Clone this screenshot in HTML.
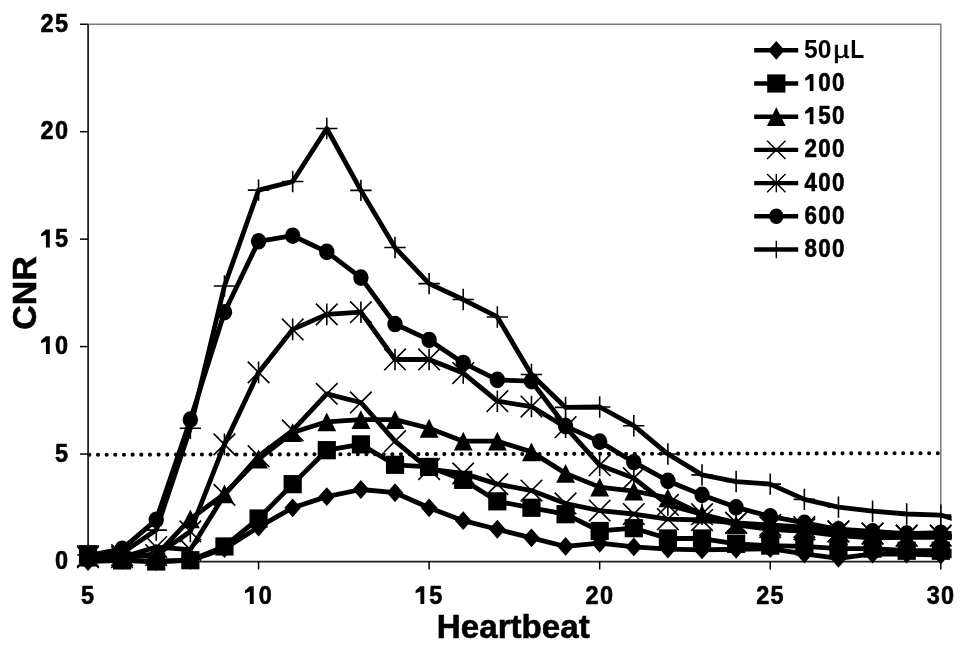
<!DOCTYPE html><html><head><meta charset="utf-8"><style>
html,body{margin:0;padding:0;background:#fff;}
svg{display:block;filter:grayscale(1);}
text{font-family:"Liberation Sans",sans-serif;font-weight:bold;fill:#000;}
.d{stroke:#000;stroke-width:0.6px;}
.t{stroke:#000;stroke-width:1.6;fill:none;}
.ln{stroke:#000;stroke-width:4.80;fill:none;stroke-linejoin:round;}
</style></head><body>
<svg width="969" height="654" viewBox="0 0 969 654">
<defs><clipPath id="c"><rect x="0" y="0" width="951.6" height="654"/></clipPath></defs>
<path d="M88.0 24.25H940.8V561.5" stroke="#7a7a7a" stroke-width="1.5" fill="none"/>
<path d="M89.34 454.75L937.9 453.2" stroke="#000" stroke-width="4.1" stroke-linecap="round" stroke-dasharray="0 8.658" fill="none"/>
<path d="M88.1 24.25V561.5H940.8" stroke="#1c1c1c" stroke-width="1.75" fill="none"/>
<path d="M80 561.50H88.0" stroke="#000" stroke-width="1.5"/>
<text class="d" transform="translate(61.43 569.20) scale(0.91 1.03)" font-size="25.8" text-anchor="middle">0</text>
<path d="M80 454.05H88.0" stroke="#000" stroke-width="1.5"/>
<text class="d" transform="translate(61.43 462.40) scale(0.91 1.03)" font-size="25.8" text-anchor="middle">5</text>
<path d="M80 346.60H88.0" stroke="#000" stroke-width="1.5"/>
<path d="M45.91 336.20L49.81 336.20L49.81 354.10L45.91 354.10L45.91 341.50L41.11 343.30L41.11 340.50Z"/><text class="d" transform="translate(61.43 354.10) scale(0.91 1.03)" font-size="25.8" text-anchor="middle">0</text>
<path d="M80 239.15H88.0" stroke="#000" stroke-width="1.5"/>
<path d="M45.91 229.50L49.81 229.50L49.81 247.40L45.91 247.40L45.91 234.80L41.11 236.60L41.11 233.80Z"/><text class="d" transform="translate(61.43 247.40) scale(0.91 1.03)" font-size="25.8" text-anchor="middle">5</text>
<path d="M80 131.70H88.0" stroke="#000" stroke-width="1.5"/>
<text class="d" transform="translate(47.08 139.00) scale(0.91 1.03)" font-size="25.8" text-anchor="middle">2</text><text class="d" transform="translate(61.43 139.00) scale(0.91 1.03)" font-size="25.8" text-anchor="middle">0</text>
<path d="M80 24.25H88.0" stroke="#000" stroke-width="1.5"/>
<text class="d" transform="translate(47.08 32.20) scale(0.91 1.03)" font-size="25.8" text-anchor="middle">2</text><text class="d" transform="translate(61.43 32.20) scale(0.91 1.03)" font-size="25.8" text-anchor="middle">5</text>
<path d="M88.00 561.5V569.5" stroke="#000" stroke-width="1.5"/>
<text class="d" transform="translate(87.60 604.10) scale(0.91 1.03)" font-size="25.8" text-anchor="middle">5</text>
<path d="M258.56 561.5V569.5" stroke="#000" stroke-width="1.5"/>
<path d="M249.82 586.20L253.72 586.20L253.72 604.10L249.82 604.10L249.82 591.50L245.02 593.30L245.02 590.50Z"/><text class="d" transform="translate(265.33 604.10) scale(0.91 1.03)" font-size="25.8" text-anchor="middle">0</text>
<path d="M429.12 561.5V569.5" stroke="#000" stroke-width="1.5"/>
<path d="M420.38 586.20L424.28 586.20L424.28 604.10L420.38 604.10L420.38 591.50L415.58 593.30L415.58 590.50Z"/><text class="d" transform="translate(435.89 604.10) scale(0.91 1.03)" font-size="25.8" text-anchor="middle">5</text>
<path d="M599.68 561.5V569.5" stroke="#000" stroke-width="1.5"/>
<text class="d" transform="translate(592.11 604.10) scale(0.91 1.03)" font-size="25.8" text-anchor="middle">2</text><text class="d" transform="translate(606.45 604.10) scale(0.91 1.03)" font-size="25.8" text-anchor="middle">0</text>
<path d="M770.24 561.5V569.5" stroke="#000" stroke-width="1.5"/>
<text class="d" transform="translate(762.67 604.10) scale(0.91 1.03)" font-size="25.8" text-anchor="middle">2</text><text class="d" transform="translate(777.01 604.10) scale(0.91 1.03)" font-size="25.8" text-anchor="middle">5</text>
<path d="M940.80 561.5V569.5" stroke="#000" stroke-width="1.5"/>
<text class="d" transform="translate(933.23 604.10) scale(0.91 1.03)" font-size="25.8" text-anchor="middle">3</text><text class="d" transform="translate(947.57 604.10) scale(0.91 1.03)" font-size="25.8" text-anchor="middle">0</text>
<text class="d" transform="translate(513.3 638.1) scale(0.99 1)" font-size="33.5" text-anchor="middle">Heartbeat</text>
<text class="d" transform="translate(35.9 292.9) rotate(-90) scale(1.0 0.985)" font-size="34" text-anchor="middle">CNR</text>
<g clip-path="url(#c)">
<polyline class="ln" points="88.00,561.50 122.11,560.43 156.22,561.50 190.34,560.43 224.45,548.61 258.56,527.12 292.67,507.77 326.78,496.60 360.90,489.51 395.01,492.73 429.12,507.77 463.23,520.67 497.34,529.26 531.46,537.86 565.57,546.46 599.68,543.23 633.79,546.89 667.90,549.04 702.02,549.90 736.13,549.25 770.24,548.61 804.35,553.98 838.46,558.28 872.58,553.98 906.69,553.98 940.80,555.05 974.91,557.20"/>
<g><path d="M88.00 552.10L96.30 561.50L88.00 570.90L79.70 561.50Z"/><path d="M122.11 551.03L130.41 560.43L122.11 569.83L113.81 560.43Z"/><path d="M156.22 552.10L164.52 561.50L156.22 570.90L147.92 561.50Z"/><path d="M190.34 551.03L198.64 560.43L190.34 569.83L182.04 560.43Z"/><path d="M224.45 539.21L232.75 548.61L224.45 558.01L216.15 548.61Z"/><path d="M258.56 517.72L266.86 527.12L258.56 536.52L250.26 527.12Z"/><path d="M292.67 498.38L300.97 507.77L292.67 517.17L284.37 507.77Z"/><path d="M326.78 487.20L335.08 496.60L326.78 506.00L318.48 496.60Z"/><path d="M360.90 480.11L369.20 489.51L360.90 498.91L352.60 489.51Z"/><path d="M395.01 483.33L403.31 492.73L395.01 502.13L386.71 492.73Z"/><path d="M429.12 498.38L437.42 507.77L429.12 517.17L420.82 507.77Z"/><path d="M463.23 511.27L471.53 520.67L463.23 530.07L454.93 520.67Z"/><path d="M497.34 519.87L505.64 529.26L497.34 538.66L489.04 529.26Z"/><path d="M531.46 528.46L539.76 537.86L531.46 547.26L523.16 537.86Z"/><path d="M565.57 537.06L573.87 546.46L565.57 555.86L557.27 546.46Z"/><path d="M599.68 533.83L607.98 543.23L599.68 552.63L591.38 543.23Z"/><path d="M633.79 537.49L642.09 546.89L633.79 556.29L625.49 546.89Z"/><path d="M667.90 539.64L676.20 549.04L667.90 558.44L659.60 549.04Z"/><path d="M702.02 540.50L710.32 549.90L702.02 559.30L693.72 549.90Z"/><path d="M736.13 539.85L744.43 549.25L736.13 558.65L727.83 549.25Z"/><path d="M770.24 539.21L778.54 548.61L770.24 558.01L761.94 548.61Z"/><path d="M804.35 544.58L812.65 553.98L804.35 563.38L796.05 553.98Z"/><path d="M838.46 548.88L846.76 558.28L838.46 567.68L830.16 558.28Z"/><path d="M872.58 544.58L880.88 553.98L872.58 563.38L864.28 553.98Z"/><path d="M906.69 544.58L914.99 553.98L906.69 563.38L898.39 553.98Z"/><path d="M940.80 545.65L949.10 555.05L940.80 564.45L932.50 555.05Z"/></g>
<polyline class="ln" points="88.00,554.19 122.11,560.43 156.22,561.50 190.34,560.21 224.45,546.46 258.56,518.52 292.67,484.14 326.78,450.18 360.90,444.38 395.01,464.80 429.12,466.94 463.23,479.84 497.34,501.33 531.46,507.77 565.57,514.22 599.68,530.98 633.79,528.19 667.90,538.51 702.02,538.51 736.13,543.88 770.24,545.60 804.35,546.46 838.46,548.61 872.58,548.61 906.69,550.75 940.80,550.75 974.91,551.83"/>
<g><rect x="78.90" y="545.09" width="18.20" height="18.20"/><rect x="113.01" y="551.33" width="18.20" height="18.20"/><rect x="147.12" y="552.40" width="18.20" height="18.20"/><rect x="181.24" y="551.11" width="18.20" height="18.20"/><rect x="215.35" y="537.36" width="18.20" height="18.20"/><rect x="249.46" y="509.42" width="18.20" height="18.20"/><rect x="283.57" y="475.04" width="18.20" height="18.20"/><rect x="317.68" y="441.08" width="18.20" height="18.20"/><rect x="351.80" y="435.28" width="18.20" height="18.20"/><rect x="385.91" y="455.69" width="18.20" height="18.20"/><rect x="420.02" y="457.84" width="18.20" height="18.20"/><rect x="454.13" y="470.74" width="18.20" height="18.20"/><rect x="488.24" y="492.23" width="18.20" height="18.20"/><rect x="522.36" y="498.67" width="18.20" height="18.20"/><rect x="556.47" y="505.12" width="18.20" height="18.20"/><rect x="590.58" y="521.88" width="18.20" height="18.20"/><rect x="624.69" y="519.09" width="18.20" height="18.20"/><rect x="658.80" y="529.41" width="18.20" height="18.20"/><rect x="692.92" y="529.41" width="18.20" height="18.20"/><rect x="727.03" y="534.78" width="18.20" height="18.20"/><rect x="761.14" y="536.50" width="18.20" height="18.20"/><rect x="795.25" y="537.36" width="18.20" height="18.20"/><rect x="829.36" y="539.51" width="18.20" height="18.20"/><rect x="863.48" y="539.51" width="18.20" height="18.20"/><rect x="897.59" y="541.65" width="18.20" height="18.20"/><rect x="931.70" y="541.65" width="18.20" height="18.20"/></g>
<polyline class="ln" points="88.00,557.20 122.11,557.20 156.22,555.05 190.34,518.95 224.45,493.81 258.56,458.99 292.67,432.56 326.78,421.81 360.90,419.67 395.01,419.67 429.12,428.26 463.23,441.16 497.34,441.16 531.46,451.90 565.57,473.39 599.68,487.14 633.79,491.01 667.90,497.89 702.02,514.22 736.13,524.97 770.24,529.26 804.35,531.41 838.46,535.71 872.58,537.86 906.69,537.43 940.80,537.43 974.91,538.94"/>
<g><path d="M88.00 547.80L97.40 566.60L78.60 566.60Z"/><path d="M122.11 547.80L131.51 566.60L112.71 566.60Z"/><path d="M156.22 545.65L165.62 564.45L146.82 564.45Z"/><path d="M190.34 509.55L199.74 528.35L180.94 528.35Z"/><path d="M224.45 484.41L233.85 503.21L215.05 503.21Z"/><path d="M258.56 449.59L267.96 468.39L249.16 468.39Z"/><path d="M292.67 423.16L302.07 441.96L283.27 441.96Z"/><path d="M326.78 412.42L336.18 431.21L317.38 431.21Z"/><path d="M360.90 410.27L370.30 429.07L351.50 429.07Z"/><path d="M395.01 410.27L404.41 429.07L385.61 429.07Z"/><path d="M429.12 418.86L438.52 437.66L419.72 437.66Z"/><path d="M463.23 431.76L472.63 450.56L453.83 450.56Z"/><path d="M497.34 431.76L506.74 450.56L487.94 450.56Z"/><path d="M531.46 442.50L540.86 461.30L522.06 461.30Z"/><path d="M565.57 463.99L574.97 482.79L556.17 482.79Z"/><path d="M599.68 477.74L609.08 496.54L590.28 496.54Z"/><path d="M633.79 481.61L643.19 500.41L624.39 500.41Z"/><path d="M667.90 488.49L677.30 507.29L658.50 507.29Z"/><path d="M702.02 504.82L711.42 523.62L692.62 523.62Z"/><path d="M736.13 515.57L745.53 534.37L726.73 534.37Z"/><path d="M770.24 519.87L779.64 538.66L760.84 538.66Z"/><path d="M804.35 522.01L813.75 540.81L794.95 540.81Z"/><path d="M838.46 526.31L847.86 545.11L829.06 545.11Z"/><path d="M872.58 528.46L881.98 547.26L863.18 547.26Z"/><path d="M906.69 528.03L916.09 546.83L897.29 546.83Z"/><path d="M940.80 528.03L950.20 546.83L931.40 546.83Z"/></g>
<polyline class="ln" points="88.00,557.20 122.11,557.20 156.22,547.10 190.34,549.68 224.45,494.88 258.56,456.20 292.67,430.41 326.78,393.88 360.90,402.47 395.01,441.16 429.12,469.09 463.23,473.39 497.34,484.14 531.46,490.58 565.57,503.48 599.68,510.57 633.79,514.01 667.90,519.16 702.02,520.02 736.13,522.82 770.24,527.12 804.35,529.26 838.46,531.41 872.58,533.56 906.69,535.71 940.80,535.71 974.91,537.86"/>
<g><path class="t" d="M77.20 546.40L98.80 568.00M98.80 546.40L77.20 568.00"/><path class="t" d="M111.31 546.40L132.91 568.00M132.91 546.40L111.31 568.00"/><path class="t" d="M145.42 536.30L167.02 557.90M167.02 536.30L145.42 557.90"/><path class="t" d="M179.54 538.88L201.14 560.48M201.14 538.88L179.54 560.48"/><path class="t" d="M213.65 484.08L235.25 505.68M235.25 484.08L213.65 505.68"/><path class="t" d="M247.76 445.40L269.36 467.00M269.36 445.40L247.76 467.00"/><path class="t" d="M281.87 419.61L303.47 441.21M303.47 419.61L281.87 441.21"/><path class="t" d="M315.98 383.08L337.58 404.68M337.58 383.08L315.98 404.68"/><path class="t" d="M350.10 391.67L371.70 413.27M371.70 391.67L350.10 413.27"/><path class="t" d="M384.21 430.36L405.81 451.96M405.81 430.36L384.21 451.96"/><path class="t" d="M418.32 458.29L439.92 479.89M439.92 458.29L418.32 479.89"/><path class="t" d="M452.43 462.59L474.03 484.19M474.03 462.59L452.43 484.19"/><path class="t" d="M486.54 473.34L508.14 494.94M508.14 473.34L486.54 494.94"/><path class="t" d="M520.66 479.78L542.26 501.38M542.26 479.78L520.66 501.38"/><path class="t" d="M554.77 492.68L576.37 514.28M576.37 492.68L554.77 514.28"/><path class="t" d="M588.88 499.77L610.48 521.37M610.48 499.77L588.88 521.37"/><path class="t" d="M622.99 503.21L644.59 524.81M644.59 503.21L622.99 524.81"/><path class="t" d="M657.10 508.36L678.70 529.96M678.70 508.36L657.10 529.96"/><path class="t" d="M691.22 509.22L712.82 530.82M712.82 509.22L691.22 530.82"/><path class="t" d="M725.33 512.02L746.93 533.62M746.93 512.02L725.33 533.62"/><path class="t" d="M759.44 516.32L781.04 537.92M781.04 516.32L759.44 537.92"/><path class="t" d="M793.55 518.47L815.15 540.06M815.15 518.47L793.55 540.06"/><path class="t" d="M827.66 520.61L849.26 542.21M849.26 520.61L827.66 542.21"/><path class="t" d="M861.78 522.76L883.38 544.36M883.38 522.76L861.78 544.36"/><path class="t" d="M895.89 524.91L917.49 546.51M917.49 524.91L895.89 546.51"/><path class="t" d="M930.00 524.91L951.60 546.51M951.60 524.91L930.00 546.51"/></g>
<polyline class="ln" points="88.00,556.13 122.11,555.05 156.22,555.05 190.34,531.41 224.45,444.38 258.56,372.39 292.67,329.41 326.78,314.37 360.90,312.22 395.01,359.49 429.12,359.49 463.23,373.03 497.34,401.18 531.46,406.56 565.57,427.19 599.68,465.22 633.79,478.12 667.90,504.98 702.02,514.22 736.13,522.82 770.24,524.97 804.35,527.12 838.46,531.41 872.58,533.56 906.69,535.71 940.80,535.71 974.91,537.86"/>
<g><path class="t" d="M77.20 545.33L98.80 566.93M98.80 545.33L77.20 566.93M88.00 545.33L88.00 566.93"/><path class="t" d="M111.31 544.25L132.91 565.85M132.91 544.25L111.31 565.85M122.11 544.25L122.11 565.85"/><path class="t" d="M145.42 544.25L167.02 565.85M167.02 544.25L145.42 565.85M156.22 544.25L156.22 565.85"/><path class="t" d="M179.54 520.61L201.14 542.21M201.14 520.61L179.54 542.21M190.34 520.61L190.34 542.21"/><path class="t" d="M213.65 433.58L235.25 455.18M235.25 433.58L213.65 455.18M224.45 433.58L224.45 455.18"/><path class="t" d="M247.76 361.59L269.36 383.19M269.36 361.59L247.76 383.19M258.56 361.59L258.56 383.19"/><path class="t" d="M281.87 318.61L303.47 340.21M303.47 318.61L281.87 340.21M292.67 318.61L292.67 340.21"/><path class="t" d="M315.98 303.56L337.58 325.17M337.58 303.56L315.98 325.17M326.78 303.56L326.78 325.17"/><path class="t" d="M350.10 301.42L371.70 323.02M371.70 301.42L350.10 323.02M360.90 301.42L360.90 323.02"/><path class="t" d="M384.21 348.69L405.81 370.29M405.81 348.69L384.21 370.29M395.01 348.69L395.01 370.29"/><path class="t" d="M418.32 348.69L439.92 370.29M439.92 348.69L418.32 370.29M429.12 348.69L429.12 370.29"/><path class="t" d="M452.43 362.23L474.03 383.83M474.03 362.23L452.43 383.83M463.23 362.23L463.23 383.83"/><path class="t" d="M486.54 390.38L508.14 411.98M508.14 390.38L486.54 411.98M497.34 390.38L497.34 411.98"/><path class="t" d="M520.66 395.76L542.26 417.36M542.26 395.76L520.66 417.36M531.46 395.76L531.46 417.36"/><path class="t" d="M554.77 416.39L576.37 437.99M576.37 416.39L554.77 437.99M565.57 416.39L565.57 437.99"/><path class="t" d="M588.88 454.42L610.48 476.02M610.48 454.42L588.88 476.02M599.68 454.42L599.68 476.02"/><path class="t" d="M622.99 467.32L644.59 488.92M644.59 467.32L622.99 488.92M633.79 467.32L633.79 488.92"/><path class="t" d="M657.10 494.18L678.70 515.78M678.70 494.18L657.10 515.78M667.90 494.18L667.90 515.78"/><path class="t" d="M691.22 503.42L712.82 525.02M712.82 503.42L691.22 525.02M702.02 503.42L702.02 525.02"/><path class="t" d="M725.33 512.02L746.93 533.62M746.93 512.02L725.33 533.62M736.13 512.02L736.13 533.62"/><path class="t" d="M759.44 514.17L781.04 535.77M781.04 514.17L759.44 535.77M770.24 514.17L770.24 535.77"/><path class="t" d="M793.55 516.32L815.15 537.92M815.15 516.32L793.55 537.92M804.35 516.32L804.35 537.92"/><path class="t" d="M827.66 520.61L849.26 542.21M849.26 520.61L827.66 542.21M838.46 520.61L838.46 542.21"/><path class="t" d="M861.78 522.76L883.38 544.36M883.38 522.76L861.78 544.36M872.58 522.76L872.58 544.36"/><path class="t" d="M895.89 524.91L917.49 546.51M917.49 524.91L895.89 546.51M906.69 524.91L906.69 546.51"/><path class="t" d="M930.00 524.91L951.60 546.51M951.60 524.91L930.00 546.51M940.80 524.91L940.80 546.51"/></g>
<polyline class="ln" points="88.00,555.70 122.11,548.82 156.22,519.81 190.34,419.67 224.45,312.22 258.56,241.30 292.67,235.71 326.78,251.83 360.90,277.62 395.01,324.04 429.12,339.94 463.23,362.93 497.34,379.91 531.46,381.20 565.57,426.11 599.68,441.59 633.79,462.22 667.90,480.91 702.02,494.88 736.13,507.35 770.24,516.37 804.35,522.82 838.46,529.26 872.58,531.41 906.69,533.56 940.80,532.70 974.91,535.71"/>
<g><ellipse cx="88.00" cy="555.70" rx="7.7" ry="8.3"/><ellipse cx="122.11" cy="548.82" rx="7.7" ry="8.3"/><ellipse cx="156.22" cy="519.81" rx="7.7" ry="8.3"/><ellipse cx="190.34" cy="419.67" rx="7.7" ry="8.3"/><ellipse cx="224.45" cy="312.22" rx="7.7" ry="8.3"/><ellipse cx="258.56" cy="241.30" rx="7.7" ry="8.3"/><ellipse cx="292.67" cy="235.71" rx="7.7" ry="8.3"/><ellipse cx="326.78" cy="251.83" rx="7.7" ry="8.3"/><ellipse cx="360.90" cy="277.62" rx="7.7" ry="8.3"/><ellipse cx="395.01" cy="324.04" rx="7.7" ry="8.3"/><ellipse cx="429.12" cy="339.94" rx="7.7" ry="8.3"/><ellipse cx="463.23" cy="362.93" rx="7.7" ry="8.3"/><ellipse cx="497.34" cy="379.91" rx="7.7" ry="8.3"/><ellipse cx="531.46" cy="381.20" rx="7.7" ry="8.3"/><ellipse cx="565.57" cy="426.11" rx="7.7" ry="8.3"/><ellipse cx="599.68" cy="441.59" rx="7.7" ry="8.3"/><ellipse cx="633.79" cy="462.22" rx="7.7" ry="8.3"/><ellipse cx="667.90" cy="480.91" rx="7.7" ry="8.3"/><ellipse cx="702.02" cy="494.88" rx="7.7" ry="8.3"/><ellipse cx="736.13" cy="507.35" rx="7.7" ry="8.3"/><ellipse cx="770.24" cy="516.37" rx="7.7" ry="8.3"/><ellipse cx="804.35" cy="522.82" rx="7.7" ry="8.3"/><ellipse cx="838.46" cy="529.26" rx="7.7" ry="8.3"/><ellipse cx="872.58" cy="531.41" rx="7.7" ry="8.3"/><ellipse cx="906.69" cy="533.56" rx="7.7" ry="8.3"/><ellipse cx="940.80" cy="532.70" rx="7.7" ry="8.3"/></g>
<polyline class="ln" points="88.00,555.05 122.11,552.90 156.22,530.12 190.34,428.26 224.45,286.00 258.56,190.15 292.67,181.56 326.78,128.48 360.90,190.37 395.01,247.53 429.12,283.63 463.23,299.54 497.34,316.94 531.46,374.54 565.57,407.42 599.68,406.99 633.79,425.68 667.90,454.05 702.02,474.90 736.13,481.56 770.24,484.14 804.35,499.39 838.46,507.13 872.58,511.21 906.69,514.01 940.80,515.08 974.91,525.61"/>
<g><path class="t" d="M77.30 555.05L98.70 555.05M88.00 544.35L88.00 565.75"/><path class="t" d="M111.41 552.90L132.81 552.90M122.11 542.20L122.11 563.60"/><path class="t" d="M145.52 530.12L166.92 530.12M156.22 519.42L156.22 540.82"/><path class="t" d="M179.64 428.26L201.04 428.26M190.34 417.56L190.34 438.96"/><path class="t" d="M213.75 286.00L235.15 286.00M224.45 275.30L224.45 296.70"/><path class="t" d="M247.86 190.15L269.26 190.15M258.56 179.45L258.56 200.85"/><path class="t" d="M281.97 181.56L303.37 181.56M292.67 170.86L292.67 192.26"/><path class="t" d="M316.08 128.48L337.48 128.48M326.78 117.78L326.78 139.18"/><path class="t" d="M350.20 190.37L371.60 190.37M360.90 179.67L360.90 201.07"/><path class="t" d="M384.31 247.53L405.71 247.53M395.01 236.83L395.01 258.23"/><path class="t" d="M418.42 283.63L439.82 283.63M429.12 272.93L429.12 294.33"/><path class="t" d="M452.53 299.54L473.93 299.54M463.23 288.84L463.23 310.24"/><path class="t" d="M486.64 316.94L508.04 316.94M497.34 306.24L497.34 327.64"/><path class="t" d="M520.76 374.54L542.16 374.54M531.46 363.84L531.46 385.24"/><path class="t" d="M554.87 407.42L576.27 407.42M565.57 396.72L565.57 418.12"/><path class="t" d="M588.98 406.99L610.38 406.99M599.68 396.29L599.68 417.69"/><path class="t" d="M623.09 425.68L644.49 425.68M633.79 414.98L633.79 436.38"/><path class="t" d="M657.20 454.05L678.60 454.05M667.90 443.35L667.90 464.75"/><path class="t" d="M691.32 474.90L712.72 474.90M702.02 464.20L702.02 485.60"/><path class="t" d="M725.43 481.56L746.83 481.56M736.13 470.86L736.13 492.26"/><path class="t" d="M759.54 484.14L780.94 484.14M770.24 473.44L770.24 494.84"/><path class="t" d="M793.65 499.39L815.05 499.39M804.35 488.69L804.35 510.09"/><path class="t" d="M827.76 507.13L849.16 507.13M838.46 496.43L838.46 517.83"/><path class="t" d="M861.88 511.21L883.28 511.21M872.58 500.51L872.58 521.91"/><path class="t" d="M895.99 514.01L917.39 514.01M906.69 503.31L906.69 524.71"/><path class="t" d="M930.10 515.08L951.50 515.08M940.80 504.38L940.80 525.78"/></g>
</g>
<path d="M754.2 50.30H798.2" stroke="#000" stroke-width="4.4"/>
<path d="M776.30 40.90L784.60 50.30L776.30 59.70L768.00 50.30Z"/>
<text transform="translate(804 58.10) scale(1 1.05)" font-size="24.6">50</text>
<text transform="translate(833.3 57.90) scale(1.18 1.02)" font-size="24" style="font-weight:normal;stroke:#000;stroke-width:0.5px">µ</text>
<text transform="translate(850.2 57.80) scale(0.93 1.05)" font-size="24.6">L</text>
<path d="M754.2 83.50H798.2" stroke="#000" stroke-width="4.4"/>
<rect x="767.20" y="74.40" width="18.20" height="18.20"/>
<path d="M809.73 73.91L813.45 73.91L813.45 91.00L809.73 91.00L809.73 78.97L805.15 80.69L805.15 78.01Z"/><text class="d" transform="translate(824.52 91.00) scale(0.91 1.03)" font-size="24.6" text-anchor="middle">0</text><text class="d" transform="translate(838.19 91.00) scale(0.91 1.03)" font-size="24.6" text-anchor="middle">0</text>
<path d="M754.2 116.70H798.2" stroke="#000" stroke-width="4.4"/>
<path d="M776.30 107.30L785.70 126.10L766.90 126.10Z"/>
<path d="M809.73 107.11L813.45 107.11L813.45 124.20L809.73 124.20L809.73 112.17L805.15 113.89L805.15 111.21Z"/><text class="d" transform="translate(824.52 124.20) scale(0.91 1.03)" font-size="24.6" text-anchor="middle">5</text><text class="d" transform="translate(838.19 124.20) scale(0.91 1.03)" font-size="24.6" text-anchor="middle">0</text>
<path d="M754.2 149.90H798.2" stroke="#000" stroke-width="4.4"/>
<path class="t" style="stroke-width:1.4px" d="M767.10 140.70L785.50 159.10M785.50 140.70L767.10 159.10"/>
<text class="d" transform="translate(810.84 157.40) scale(0.91 1.03)" font-size="24.6" text-anchor="middle">2</text><text class="d" transform="translate(824.52 157.40) scale(0.91 1.03)" font-size="24.6" text-anchor="middle">0</text><text class="d" transform="translate(838.19 157.40) scale(0.91 1.03)" font-size="24.6" text-anchor="middle">0</text>
<path d="M754.2 183.10H798.2" stroke="#000" stroke-width="4.4"/>
<path class="t" style="stroke-width:1.4px" d="M767.10 173.90L785.50 192.30M785.50 173.90L767.10 192.30M776.30 173.90L776.30 192.30"/>
<text class="d" transform="translate(810.84 190.60) scale(0.91 1.03)" font-size="24.6" text-anchor="middle">4</text><text class="d" transform="translate(824.52 190.60) scale(0.91 1.03)" font-size="24.6" text-anchor="middle">0</text><text class="d" transform="translate(838.19 190.60) scale(0.91 1.03)" font-size="24.6" text-anchor="middle">0</text>
<path d="M754.2 216.30H798.2" stroke="#000" stroke-width="4.4"/>
<ellipse cx="776.30" cy="216.30" rx="7.2" ry="7.7"/>
<text class="d" transform="translate(810.84 223.80) scale(0.91 1.03)" font-size="24.6" text-anchor="middle">6</text><text class="d" transform="translate(824.52 223.80) scale(0.91 1.03)" font-size="24.6" text-anchor="middle">0</text><text class="d" transform="translate(838.19 223.80) scale(0.91 1.03)" font-size="24.6" text-anchor="middle">0</text>
<path d="M754.2 249.50H798.2" stroke="#000" stroke-width="4.4"/>
<path class="t" style="stroke-width:1.4px" d="M767.60 249.50L785.00 249.50M776.30 240.80L776.30 258.20"/>
<text class="d" transform="translate(810.84 257.00) scale(0.91 1.03)" font-size="24.6" text-anchor="middle">8</text><text class="d" transform="translate(824.52 257.00) scale(0.91 1.03)" font-size="24.6" text-anchor="middle">0</text><text class="d" transform="translate(838.19 257.00) scale(0.91 1.03)" font-size="24.6" text-anchor="middle">0</text>
</svg></body></html>
